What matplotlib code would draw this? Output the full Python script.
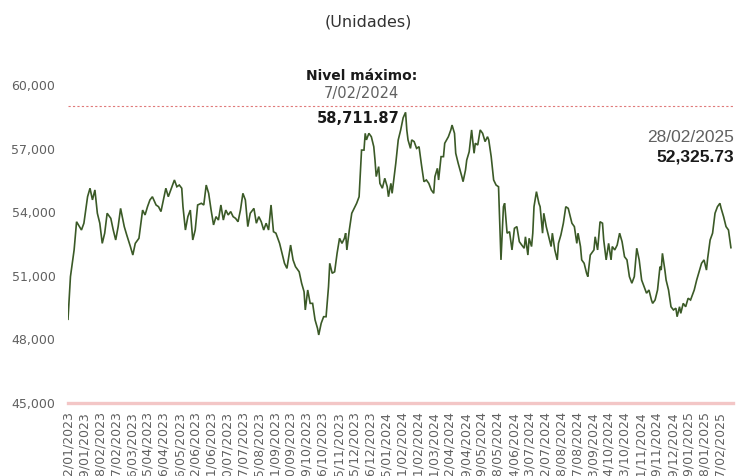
import matplotlib
matplotlib.use("Agg")
import matplotlib.pyplot as plt
from matplotlib.ticker import FuncFormatter

# Sesiones de la serie (0 = 02/01/2023) y nivel de cierre en unidades
sesiones = [0, 2, 5, 7, 11, 13, 16, 18, 20, 22, 24, 26, 28, 30, 32, 35, 37, 39, 41, 43,
            46, 48, 51, 53, 55, 58, 61, 63, 65, 67, 69, 72, 74, 76, 78, 80, 82, 84, 87, 89,
            91, 93, 94, 96, 98, 100, 102, 104, 106, 109, 111, 113, 115, 117, 119, 121, 123, 125, 127, 129,
            131, 133, 135, 137, 139, 141, 143, 145, 147, 149, 152, 154, 156, 158, 160, 162, 164, 166, 168, 170,
            173, 175, 177, 179, 182, 184, 186, 189, 191, 193, 194, 196, 198, 200, 202, 204, 205, 207, 209, 211,
            213, 214, 216, 218, 220, 222, 224, 226, 227, 228, 230, 232, 234, 236, 238, 239, 240, 242, 243, 244,
            246, 248, 250, 251, 252, 254, 255, 257, 259, 261, 262, 264, 265, 268, 270, 272, 274, 276, 277, 278,
            280, 281, 283, 285, 287, 289, 291, 293, 295, 297, 299, 300, 302, 303, 305, 307, 308, 311, 313, 314,
            316, 317, 319, 322, 323, 325, 326, 328, 330, 332, 333, 335, 337, 339, 341, 343, 344, 346, 348, 350,
            352, 354, 356, 357, 359, 361, 363, 365, 367, 369, 371, 373, 374, 376, 377, 379, 380, 381, 383, 385,
            386, 388, 389, 391, 393, 395, 396, 398, 400, 401, 403, 405, 407, 409, 410, 412, 414, 416, 417, 419,
            420, 422, 424, 425, 427, 430, 431, 433, 435, 437, 438, 440, 442, 444, 445, 447, 449, 451, 453, 455,
            457, 459, 461, 463, 465, 467, 469, 471, 473, 475, 477, 478, 480, 482, 484, 485, 486, 488, 489, 491,
            493, 495, 497, 498, 500, 501, 503, 505, 507, 509, 511, 512, 514, 516, 518, 520, 522, 523, 525, 527,
            529, 531, 533, 534, 536, 538, 540, 542]
niveles = [48950, 50960, 52220, 53550, 53160, 53480, 54730, 55130, 54580, 55050, 53950, 53480, 52530, 53010, 53950, 53710, 53160, 52690, 53320, 54180,
           53320, 52930, 52380, 51980, 52530, 52770, 54100, 53870, 54260, 54580, 54730, 54340, 54260, 54030, 54580, 55130, 54730, 55050, 55520, 55200,
           55280, 55130, 54260, 53160, 53790, 54100, 52690, 53160, 54340, 54420, 54340, 55280, 54890, 54100, 53400, 53790, 53630, 54340, 53630, 54100,
           53870, 54030, 53790, 53710, 53550, 54100, 54890, 54580, 53320, 53950, 54180, 53480, 53790, 53550, 53160, 53480, 53160, 54340, 53080, 53010,
           52530, 52060, 51590, 51350, 52450, 51750, 51430, 51190, 50650, 50250, 49390, 50330, 49700, 49700, 48920, 48520, 48210, 48760, 49070, 49070,
           50490, 51590, 51120, 51190, 52060, 52770, 52530, 52770, 53010, 52220, 53160, 53950, 54180, 54420, 54730, 55840, 56930, 56930, 57720, 57410,
           57720, 57560, 57090, 56460, 55680, 56150, 55360, 55130, 55600, 55200, 54730, 55360, 54890, 56310, 57410, 57880, 58450, 58711.87, 57880, 57410,
           57010, 57410, 57330, 57010, 57090, 56230, 55440, 55520, 55360, 55050, 54890, 55680, 56070, 55520, 56620, 56620, 57250, 57560, 57880, 58110,
           57720, 56780, 56310, 55680, 55440, 55990, 56460, 56850, 57880, 56780, 57250, 57170, 57880, 57720, 57330, 57560, 57410, 56620, 55520, 55280,
           55200, 51750, 54260, 54420, 53010, 53080, 52220, 53240, 53320, 52610, 52450, 52300, 52840, 51980, 52770, 52380, 53010, 54260, 54970, 54420,
           54260, 53010, 53950, 53320, 52840, 52380, 53010, 52220, 51750, 52530, 52930, 53480, 54260, 54180, 53950, 53480, 53320, 52530, 53010, 52380,
           51750, 51590, 51120, 50960, 51980, 52220, 52840, 52220, 53550, 53480, 52690, 51750, 52530, 51750, 52380, 52220, 52450, 53010, 52610, 51900,
           51750, 50960, 50650, 50960, 52300, 51750, 50800, 50490, 50180, 50330, 49860, 49700, 49860, 50330, 51430, 51270, 52060, 51270, 50800, 50330,
           49540, 49390, 49470, 49070, 49540, 49230, 49700, 49540, 49940, 49860, 50180, 50330, 50800, 51190, 51590, 51750, 51270, 51830, 52690, 53010,
           53950, 54260, 54420, 54180, 53790, 53320, 53160, 52325.73]

# Etiquetas del eje x, una cada 13 sesiones
fechas_eje = ["02/01/2023", "19/01/2023", "08/02/2023", "27/02/2023", "16/03/2023", "05/04/2023",
              "26/04/2023", "16/05/2023", "02/06/2023", "21/06/2023", "10/07/2023", "27/07/2023",
              "15/08/2023", "01/09/2023", "20/09/2023", "09/10/2023", "26/10/2023", "15/11/2023",
              "05/12/2023", "26/12/2023", "15/01/2024", "01/02/2024", "21/02/2024", "11/03/2024",
              "02/04/2024", "19/04/2024", "09/05/2024", "28/05/2024", "14/06/2024", "03/07/2024",
              "22/07/2024", "08/08/2024", "27/08/2024", "13/09/2024", "04/10/2024", "23/10/2024",
              "11/11/2024", "29/11/2024", "19/12/2024", "09/01/2025", "28/01/2025", "17/02/2025"]
paso_eje = 13

fecha_max = "7/02/2024"
fecha_ult = "28/02/2025"
referencia = 59000

gris = "#606060"
verde = "#3b5a27"

fig = plt.figure(figsize=(7.37, 4.76), dpi=100)
ax = fig.add_axes([68 / 737, 73 / 476, 665 / 737, 318 / 476])

ax.plot(sesiones, niveles, color=verde, lw=1.2, solid_joinstyle="miter")
ax.axhline(referencia, color="#e07a7a", lw=0.8, ls=(0, (2, 2)))

ax.set_xlim(0, 543.7)
ax.set_ylim(45000, 60000)
ax.set_yticks(range(45000, 60001, 3000))
ax.yaxis.set_major_formatter(FuncFormatter(lambda v, p: f"{v:,.0f}"))
ax.set_xticks([i * paso_eje for i in range(len(fechas_eje))])
ax.set_xticklabels(fechas_eje, rotation=90, va="top", ha="center")
ax.tick_params(axis="both", length=0, colors=gris, labelsize=9)
ax.tick_params(axis="y", pad=9)
ax.tick_params(axis="x", pad=6)

for s in ["top", "right", "left"]:
    ax.spines[s].set_visible(False)
ax.spines["bottom"].set_color("#f3c6c6")
ax.spines["bottom"].set_linewidth(2.4)

# Nivel máximo del periodo
i_max = niveles.index(max(niveles))
pt_max = (sesiones[i_max], niveles[i_max])
ax.annotate(f"{niveles[i_max]:,.2f}", pt_max, xytext=(-34, -4.5), textcoords="offset points",
            ha="center", va="center", fontsize=10.5, fontweight="bold", color="#1a1a1a")
ax.annotate(fecha_max, pt_max, xytext=(-32, 13.5), textcoords="offset points",
            ha="center", va="center", fontsize=10.5, color=gris)
ax.annotate("Nivel máximo:", pt_max, xytext=(-32, 26.5), textcoords="offset points",
            ha="center", va="center", fontsize=10, fontweight="bold", color="#1a1a1a")

# Último dato
pt_ult = (sesiones[-1], niveles[-1])
ax.annotate(f"{niveles[-1]:,.2f}", pt_ult, xytext=(2, 65), textcoords="offset points",
            ha="right", va="center", fontsize=12.5, fontweight="bold", color="#1a1a1a",
            family="Liberation Sans")
ax.annotate(fecha_ult, pt_ult, xytext=(2, 79), textcoords="offset points",
            ha="right", va="center", fontsize=12.5, color=gris, family="Liberation Sans")

fig.text(368 / 737, 1 - 22 / 476, "(Unidades)", ha="center", va="center", fontsize=11.5, color="#333333")

fig.savefig("out.png", dpi=100)
